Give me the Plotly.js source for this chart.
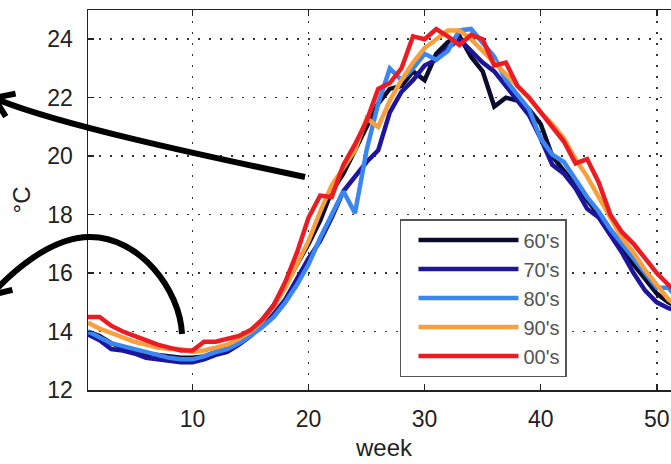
<!DOCTYPE html>
<html>
<head>
<meta charset="utf-8">
<script src="https://cdn.plot.ly/plotly-3.0.1.min.js"></script>
<style>
  html, body { margin: 0; padding: 0; overflow: hidden; background: #fff; }
</style>
</head>
<body>
<div id="chart"></div>
<script>
// weekly mean temperature per decade
const weeks = Array.from({length: 52}, (_, i) => i + 1)

const decades = ["60's", "70's", "80's", "90's", "00's"]
const colors = ['#0b0b2e', '#1d159e', '#3a86f2', '#f9a03c', '#ec1c24']

const t60 = [14.0, 13.85, 13.6, 13.45, 13.35, 13.25, 13.2, 13.15, 13.1, 13.1,
  13.15, 13.3, 13.45, 13.7, 14.0, 14.4, 14.9, 15.6, 16.3, 17.0,
  17.8, 18.8, 19.4, 20.2, 21.0, 21.8, 22.3, 22.4, 22.9, 22.6,
  23.5, 23.9, 24.1, 23.4, 22.9, 21.7, 22.0, 21.9, 21.6, 21.1,
  20.0, 19.5, 19.0, 18.5, 18.0, 17.4, 16.9, 16.3, 15.8, 15.3,
  15.0, 14.8]

const t70 = [13.9, 13.7, 13.4, 13.35, 13.25, 13.1, 13.05, 13.0, 12.95, 12.95,
  13.05, 13.2, 13.3, 13.55, 13.85, 14.2, 14.6, 15.1, 15.8, 16.5,
  17.1, 17.9, 18.8, 19.3, 19.8, 20.2, 21.5, 22.2, 22.6, 23.1,
  23.3, 23.7, 24.0, 23.6, 23.2, 22.9, 22.4, 21.9, 21.4, 20.6,
  19.7, 19.4, 18.9, 18.2, 17.9, 17.3, 16.7, 16.0, 15.4, 15.0,
  14.8, 14.7]

const t80 = [14.0, 13.8, 13.6, 13.5, 13.4, 13.3, 13.2, 13.1, 13.05, 13.05,
  13.15, 13.3, 13.4, 13.6, 13.85, 14.15, 14.5, 15.0, 15.6, 16.3,
  17.2, 18.0, 18.8, 18.05, 20.2, 21.8, 23.0, 22.6, 23.0, 23.5,
  23.3, 23.6, 24.3, 24.35, 23.9, 23.4, 22.6, 22.1, 21.6, 20.6,
  20.05, 19.8, 19.2, 18.6, 18.1, 17.5, 17.0, 16.5, 16.0, 15.5,
  15.5, 15.0]

const t90 = [14.3, 14.1, 13.95, 13.8, 13.65, 13.55, 13.45, 13.4, 13.4, 13.3,
  13.35, 13.45, 13.55, 13.75, 14.0, 14.35, 14.85, 15.5, 16.3, 17.1,
  18.1, 19.0, 19.6, 20.2, 21.3, 21.0, 21.9, 22.6, 23.2, 23.7,
  24.0, 24.3, 24.3, 24.0, 23.6, 23.2, 22.8, 22.4, 22.0, 21.5,
  21.1, 20.6, 19.9, 19.3, 18.6, 17.9, 17.2, 16.7, 16.1, 15.6,
  15.1, 14.8]

const t00 = [14.5, 14.5, 14.2, 14.0, 13.85, 13.7, 13.55, 13.45, 13.35, 13.35,
  13.65, 13.65, 13.75, 13.85, 14.05, 14.4, 14.9, 15.7, 16.7, 17.9,
  18.65, 18.6, 19.7, 20.4, 21.2, 22.3, 22.5, 23.0, 24.1, 24.0,
  24.35, 24.1, 23.8, 24.15, 24.0, 23.1, 23.2, 22.4, 22.0, 21.5,
  21.0, 20.5, 19.75, 19.9, 19.1, 18.0, 17.4, 17.0, 16.5, 16.0,
  15.6, 15.2]

const series = [t60, t70, t80, t90, t00]

const xTicks = [10, 20, 30, 40, 50]
const yTicks = [12, 14, 16, 18, 20, 22, 24]

// figure geometry (plot area in pixels) used to place the hand-drawn arrows
const W = 682, H = 464
const M = {l: 88, r: 2, t: 10, b: 74}
const PW = W - M.l - M.r, PH = H - M.t - M.b
const px = (x, y) => [((x - M.l) / PW).toFixed(4), ((H - M.b - y) / PH).toFixed(4)].join(',')

function arrowHead(tip, from, len, ang) {
  const dx = from[0] - tip[0], dy = from[1] - tip[1]
  const n = Math.hypot(dx, dy)
  const ux = dx / n, uy = dy / n
  const arm = (a) => [tip[0] + len * (ux * Math.cos(a) - uy * Math.sin(a)),
                      tip[1] + len * (ux * Math.sin(a) + uy * Math.cos(a))]
  const a1 = arm(ang), a2 = arm(-ang)
  return 'M' + px(a1[0], a1[1]) + ' L' + px(tip[0], tip[1]) + ' L' + px(a2[0], a2[1])
}

const arrowLine = {color: '#000', width: 6}
const shapes = [
  {type: 'path', xref: 'paper', yref: 'paper', line: arrowLine, layer: 'above',
   path: 'M' + px(305, 177) + ' C' + px(205, 156) + ' ' + px(55, 124) + ' ' + px(-6, 98)},
  {type: 'path', xref: 'paper', yref: 'paper', line: arrowLine, layer: 'above',
   path: arrowHead([-6, 98], [55, 124], 22, 0.6)},
  {type: 'path', xref: 'paper', yref: 'paper', line: arrowLine, layer: 'above',
   path: 'M' + px(182, 334) + ' C' + px(180, 290) + ' ' + px(140, 237) + ' ' + px(90, 237) +
         ' C' + px(50, 237) + ' ' + px(11, 273) + ' ' + px(-9, 295)},
  {type: 'path', xref: 'paper', yref: 'paper', line: arrowLine, layer: 'above',
   path: arrowHead([-9, 295], [11, 273], 22, 0.6)}
]

const traces = series.map((ys, i) => ({
  x: weeks,
  y: ys,
  type: 'scatter',
  mode: 'lines',
  name: decades[i],
  legendgroup: decades[i],
  line: {color: colors[i], width: 4.5}
}))

const axisFont = {family: 'Liberation Sans, Arial, sans-serif', size: 23, color: '#222'}
const titleFont = {family: 'Liberation Sans, Arial, sans-serif', size: 24, color: '#222'}

const layout = {
  width: W,
  height: H,
  margin: M,
  paper_bgcolor: '#fff',
  plot_bgcolor: '#fff',
  font: axisFont,
  showlegend: true,
  legend: {
    x: 0.527, y: 0.45, xanchor: 'left', yanchor: 'top',
    bgcolor: '#fff', bordercolor: '#555', borderwidth: 1.5,
    font: {family: 'Liberation Sans, Arial, sans-serif', size: 20, color: '#555'},
    itemwidth: 100,
    indentation: 12,
    tracegroupgap: 0
  },
  xaxis: {
    range: [1, 52],
    tickvals: xTicks,
    ticks: 'inside', ticklen: 6, tickwidth: 1.5, tickcolor: '#222',
    showline: true, linecolor: '#222', linewidth: 1.5, mirror: 'ticks',
    showgrid: true, gridcolor: '#333', gridwidth: 1.5, griddash: '2px,9px',
    zeroline: false,
    ticklabelstandoff: 8,
    tickfont: axisFont,
    title: {text: 'week', font: titleFont, standoff: 8}
  },
  yaxis: {
    range: [12, 25],
    tickvals: yTicks,
    ticks: 'inside', ticklen: 6, tickwidth: 1.5, tickcolor: '#222',
    showline: true, linecolor: '#222', linewidth: 1.5, mirror: 'ticks',
    showgrid: true, gridcolor: '#333', gridwidth: 1.5, griddash: '2px,9px',
    zeroline: false,
    ticklabelstandoff: 9,
    tickfont: axisFont,
    title: {text: '°C', font: titleFont, standoff: 10}
  },
  shapes: shapes
}

Plotly.newPlot('chart', traces, layout, {displayModeBar: false, staticPlot: true})
</script>
</body>
</html>
